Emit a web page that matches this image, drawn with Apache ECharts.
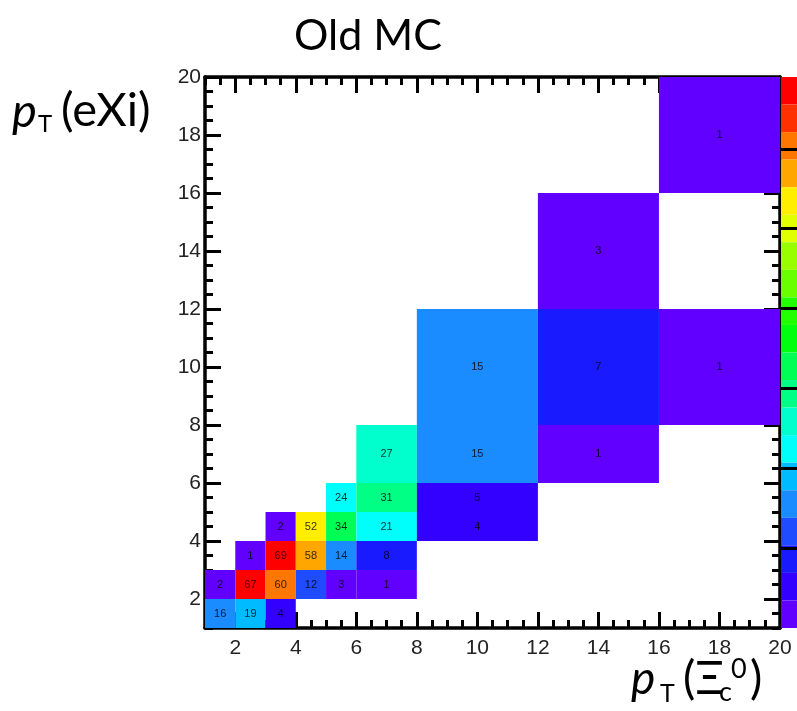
<!DOCTYPE html>
<html><head><meta charset="utf-8">
<script src="https://cdn.jsdelivr.net/npm/echarts@6/dist/echarts.min.js"></script>
<style>html,body{margin:0;padding:0;background:#fff}#c{width:797px;height:711px}</style>
</head><body><div id="c"></div>
<script>
// ---- data (bin edges and counts) ----
const xLow   = [1,2,3, 1,2,3,4,5,6, 2,3,4,5,6, 3,4,5,6,8, 5,6,8, 6,8,12, 8,12,16, 12, 16];
const xHigh  = [2,3,4, 2,3,4,5,6,8, 3,4,5,6,8, 4,5,6,8,12, 6,8,12, 8,12,16, 12,16,20, 16, 20];
const yLow   = [1,1,1, 2,2,2,2,2,2, 3,3,3,3,3, 4,4,4,4,4, 5,5,5, 6,6,6, 8,8,8, 12, 16];
const yHigh  = [2,2,2, 3,3,3,3,3,3, 4,4,4,4,4, 5,5,5,5,5, 6,6,6, 8,8,8, 12,12,12, 16, 20];
const counts = [16,19,4, 2,67,60,12,3,1, 1,69,58,14,8, 2,52,34,21,4, 24,31,5, 27,15,1, 15,7,1, 3, 1];
const majorTicks = [2,4,6,8,10,12,14,16,18,20];
const minorTicks = [1,1.5,2.5,3,3.5,4.5,5,5.5,6.5,7,7.5,8.5,9,9.5,10.5,11,11.5,12.5,13,13.5,14.5,15,15.5,16.5,17,17.5,18.5,19,19.5];
const paletteTicks = [10,20,30,40,50,60];
const zMax = 69;
const nContours = 20;
const palette = ['#6200ff','#3300ff','#1a1aff','#1f4cff','#1a8cff','#00bbff','#00fffb','#00ffcc','#00ff85','#00ff55',
                 '#00ff0e','#22ff00','#69ff00','#99ff00','#e0ff00','#ffee00','#ffa700','#ff7700','#ff3000','#ff0000'];

const data = counts.map((c,i)=>[xLow[i], xHigh[i], yLow[i], yHigh[i], c]);
const pieces = palette.map((col,i)=>({min: i*zMax/nContours, max:(i+1)*zMax/nContours, color: col}));

const AX = '#000';
function majorAxis(pos, labels){
  return {
    type:'value', position:pos, min:1, max:20, gridIndex:0,
    axisLine:{show:true, onZero:false, lineStyle:{color:AX, width:3.5}},
    axisTick:{show:true, inside:true, length:16, customValues:majorTicks, lineStyle:{color:AX, width:3}},
    axisLabel:{show:labels, customValues:majorTicks, fontFamily:'Liberation Sans', fontSize:21, color:'#222', margin:(pos==='bottom'?10:4)},
    splitLine:{show:false}
  };
}
function minorAxis(pos){
  return {
    type:'value', position:pos, min:1, max:20, gridIndex:0,
    axisLine:{show:false, onZero:false},
    axisTick:{show:true, inside:true, length:8, customValues:minorTicks, lineStyle:{color:AX, width:3}},
    axisLabel:{show:false},
    splitLine:{show:false}
  };
}

const chart = echarts.init(document.getElementById('c'));
chart.setOption({
  animation:false,
  backgroundColor:'#fff',
  title:{text:'Old MC', left:363, top:10, textAlign:'center',
         textStyle:{fontFamily:'Lato', fontWeight:'normal', fontSize:43, color:'#000'}},
  grid:[{left:205, top:77, width:575, height:551},
        {left:781, top:77, width:16, height:551}],
  xAxis:[majorAxis('bottom',true), minorAxis('bottom'), majorAxis('top',false), minorAxis('top'),
         {type:'value', gridIndex:1, show:false, min:0, max:1}],
  yAxis:[majorAxis('left',true), minorAxis('left'), majorAxis('right',false), minorAxis('right'),
         {type:'value', gridIndex:1, position:'left', min:0, max:zMax, z:20, zlevel:1,
          axisLine:{show:false},
          axisTick:{show:true, inside:true, length:16, customValues:paletteTicks, lineStyle:{color:AX, width:3}},
          axisLabel:{show:false}, splitLine:{show:false}}],
  visualMap:{
    type:'piecewise', seriesIndex:0, dimension:4,
    pieces: pieces, showLabel:false, itemSymbol:'rect',
    orient:'vertical', left:781, top:77, itemWidth:16, itemHeight:551/nContours, itemGap:0,
    padding:0, selectedMode:false, text:null, z:2
  },
  series:[{
    type:'custom', xAxisIndex:0, yAxisIndex:0,
    encode:{x:[0,1], y:[2,3]},
    data:data,
    renderItem:function(params, api){
      const p0 = api.coord([api.value(0), api.value(3)]);
      const p1 = api.coord([api.value(1), api.value(2)]);
      return {
        type:'rect',
        shape:{x:p0[0], y:p0[1], width:p1[0]-p0[0], height:p1[1]-p0[1]},
        style:{fill:api.visual('color')},
        textContent:{style:{text:String(api.value(4)), fontFamily:'Liberation Sans', fontSize:11, fill:'rgba(0,0,0,0.8)'}},
        textConfig:{position:'inside'}
      };
    },
    z:1
  }],
  graphic:[
    {type:'text', left:12, top:88, style:{text:'p', font:'italic 47px Lato', fill:'#000'}},
    {type:'text', left:38, top:112, style:{text:'T', font:'24px Lato', fill:'#000'}},
    {type:'text', left:61, top:87, style:{text:'(eXi)', font:'47px Lato', fill:'#000'}},
    {type:'text', left:631, top:656, style:{text:'p', font:'italic 46px Lato', fill:'#000'}},
    {type:'text', left:660, top:681, style:{text:'T', font:'25px Lato', fill:'#000'}},
    {type:'text', left:683, top:656, style:{text:'(\u039E', font:'46px Lato', fill:'#000'}},
    {type:'text', left:719, top:679, style:{text:'c', font:'27px Lato', fill:'#000'}},
    {type:'text', left:731, top:656, style:{text:'0', font:'27px Lato', fill:'#000'}},
    {type:'text', left:750, top:656, style:{text:')', font:'46px Lato', fill:'#000'}}
  ]
});
</script></body></html>
